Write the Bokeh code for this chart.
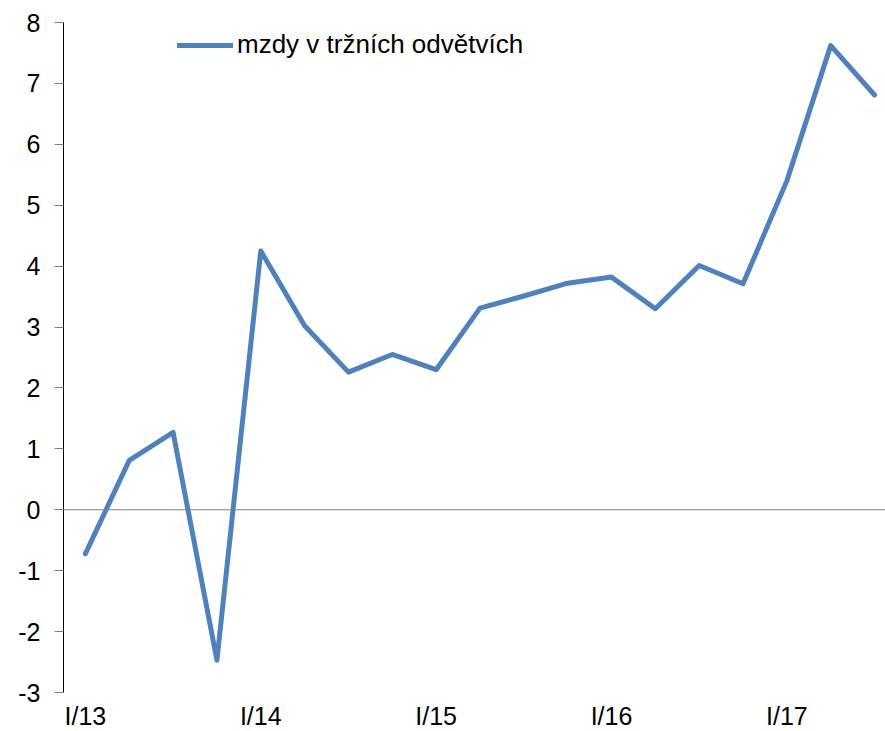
from bokeh.plotting import figure
from bokeh.models import FixedTicker, Span, Range1d, Legend, LegendItem
from bokeh.embed import file_html
from bokeh.resources import INLINE

quarters = ["I/13", "II/13", "III/13", "IV/13", "I/14", "II/14", "III/14", "IV/14",
            "I/15", "II/15", "III/15", "IV/15", "I/16", "II/16", "III/16", "IV/16",
            "I/17", "II/17", "III/17"]
wages = [-0.72, 0.81, 1.27, -2.47, 4.25, 3.02, 2.26, 2.55, 2.30, 3.31, 3.51, 3.72,
         3.82, 3.30, 4.01, 3.71, 5.40, 7.62, 6.81]
series_name = "mzdy v tržních odvětvích"
x_tick_labels = {0: "I/13", 4: "I/14", 8: "I/15", 12: "I/16", 16: "I/17"}
y_ticks = list(range(-3, 9))
y_tick_labels = {t: str(t) for t in y_ticks}  # plain hyphen-minus as in the reference

FONT = "Liberation Sans"
xs = list(range(len(wages)))

p = figure(frame_width=822, frame_height=670, output_backend="svg", toolbar_location=None,
           x_range=Range1d(-0.5, 18.25), y_range=Range1d(-3, 8),
           min_border_left=63, min_border_top=22, min_border_right=0, min_border_bottom=36)
p.outline_line_color = None
p.xgrid.visible = False
p.ygrid.visible = False
p.background_fill_color = "white"
p.border_fill_color = "white"

zero = Span(location=0, dimension="width", line_color="#808080", line_width=1)
p.add_layout(zero)

r = p.line(xs, wages, line_color="#4F81BD", line_width=5, line_join="round", line_cap="round")

# axes
p.yaxis.ticker = FixedTicker(ticks=y_ticks)
p.yaxis.major_label_overrides = y_tick_labels
p.yaxis.axis_line_color = "black"
p.yaxis.major_tick_line_color = "#808080"
p.yaxis.major_tick_out = 9
p.yaxis.major_tick_in = 0
p.yaxis.minor_tick_line_color = None
p.yaxis.major_label_text_font = FONT
p.yaxis.major_label_text_font_size = "25px"
p.yaxis.major_label_text_color = "black"
p.yaxis.major_label_standoff = 14

p.xaxis.ticker = FixedTicker(ticks=list(x_tick_labels.keys()))
p.xaxis.major_label_overrides = dict(x_tick_labels)
p.xaxis.axis_line_color = None
p.xaxis.major_tick_line_color = None
p.xaxis.major_tick_out = 0
p.xaxis.major_tick_in = 0
p.xaxis.minor_tick_line_color = None
p.xaxis.major_label_text_font = FONT
p.xaxis.major_label_text_font_size = "25px"
p.xaxis.major_label_text_color = "black"
p.xaxis.major_label_standoff = 9

legend = Legend(items=[LegendItem(label=series_name, renderers=[r])],
                location=(114, 632), orientation="vertical",
                border_line_alpha=0, background_fill_alpha=0,
                padding=0, margin=0, spacing=0,
                glyph_width=56, glyph_height=30, label_height=30, label_standoff=4,
                label_text_font=FONT, label_text_font_size="26px",
                label_text_color="black")
p.add_layout(legend)

open("out.html", "w").write(file_html(p, INLINE))
